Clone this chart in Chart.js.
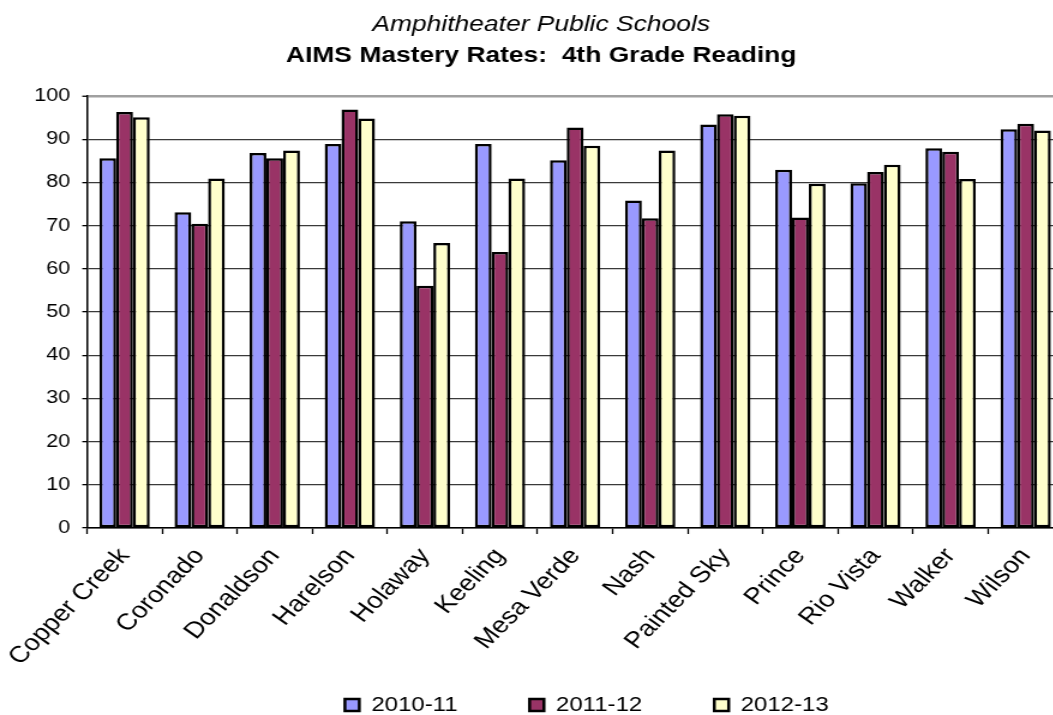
<!DOCTYPE html>
<html>
<head>
<meta charset="utf-8">
<title>AIMS Mastery Rates: 4th Grade Reading</title>
<script src="https://cdn.jsdelivr.net/npm/chart.js@4"></script>
<style>
  html, body { margin: 0; padding: 0; background: #fff; overflow: hidden; }
  #wrap { position: absolute; left: 0; top: 0; width: 978px; height: 728px; transform: scaleX(1.2); transform-origin: 0 0; }
</style>
</head>
<body>
<div id="wrap"><canvas id="readingChart"></canvas></div>
<script>
const titleLines = ['Amphitheater Public Schools', 'AIMS Mastery Rates:  4th Grade Reading'];

const schools = ['Copper Creek', 'Coronado', 'Donaldson', 'Harelson', 'Holaway', 'Keeling',
    'Mesa Verde', 'Nash', 'Painted Sky', 'Prince', 'Rio Vista', 'Walker', 'Wilson'];

const years = ['2010-11', '2011-12', '2012-13'];

const rates2010 = [85.6, 73.1, 86.8, 88.9, 71.0, 88.9, 85.1, 75.8, 93.4, 82.9, 79.8, 87.9, 92.3];
const rates2011 = [96.3, 70.4, 85.6, 96.9, 56.1, 63.9, 92.7, 71.7, 95.8, 71.9, 82.4, 87.1, 93.6];
const rates2012 = [95.1, 80.9, 87.4, 94.8, 66.0, 80.9, 88.5, 87.4, 95.4, 79.7, 84.1, 80.8, 92.0];

const yTicks = [0, 10, 20, 30, 40, 50, 60, 70, 80, 90, 100];

const barColors = ['#9999FF', '#993366', '#FFFFCC'];
const fontFamily = '"Liberation Sans", Arial, sans-serif';

// two title lines, italic over bold
const titlePlugin = {
    id: 'twoLineTitle',
    afterDraw(chart) {
        const ctx = chart.ctx;
        ctx.save();
        ctx.fillStyle = '#000';
        ctx.textAlign = 'center';
        ctx.textBaseline = 'alphabetic';
        ctx.font = `italic 22px ${fontFamily}`;
        ctx.fillText(titleLines[0], 451, 31);
        ctx.font = `bold 22px ${fontFamily}`;
        ctx.fillText(titleLines[1], 451, 62);
        ctx.restore();
    }
};

function makeDataset(label, data, color) {
    return {
        label,
        data,
        backgroundColor: color,
        borderColor: '#000',
        borderWidth: 2.5,
        borderSkipped: false,
        categoryPercentage: 0.67,
        barPercentage: 1.0
    };
}

const ctx = document.getElementById('readingChart').getContext('2d');

new Chart(ctx, {
    type: 'bar',
    data: {
        labels: schools,
        datasets: [
            makeDataset(years[0], rates2010, barColors[0]),
            makeDataset(years[1], rates2011, barColors[1]),
            makeDataset(years[2], rates2012, barColors[2])
        ]
    },
    options: {
        responsive: true,
        maintainAspectRatio: false,
        animation: false,
        devicePixelRatio: 1,
        layout: {
            padding: { top: 96, bottom: 3, left: 0, right: 0 }
        },
        plugins: {
            title: { display: false },
            tooltip: { enabled: false },
            legend: {
                position: 'bottom',
                labels: {
                    color: '#000',
                    font: { family: fontFamily, size: 20 },
                    boxWidth: 12,
                    boxHeight: 12,
                    padding: 60
                }
            }
        },
        scales: {
            x: {
                type: 'category',
                offset: true,
                afterFit(scale) {
                    scale.height = 107;
                    // school names run down past the axis box, so don't clip them
                    scale._computeLabelArea = () => undefined;
                },
                grid: {
                    display: true,
                    offset: true,
                    drawOnChartArea: false,
                    drawTicks: true,
                    tickLength: 6,
                    tickColor: '#000',
                    tickWidth: 1.3
                },
                border: { display: true, color: '#000', width: 1.5 },
                ticks: {
                    color: '#000',
                    font: { family: fontFamily, size: 23 },
                    autoSkip: false,
                    minRotation: 50,
                    maxRotation: 50,
                    padding: 9
                }
            },
            y: {
                min: 0,
                max: 100,
                afterFit(scale) { scale.width = 72; },
                afterBuildTicks(scale) {
                    scale.ticks = yTicks.map(v => ({ value: v }));
                },
                grid: {
                    color: (c) => c.tick && c.tick.value === 100 ? '#a0a0a0' : '#3a3a3a',
                    lineWidth: (c) => c.tick && c.tick.value === 100 ? 2.5 : 1.3,
                    tickLength: 4,
                    tickColor: '#000',
                    tickWidth: 1.3
                },
                border: { display: true, color: '#000', width: 1.5 },
                ticks: {
                    color: '#000',
                    font: { family: fontFamily, size: 18 },
                    padding: 10
                }
            },
            // blank axis on the right that keeps the plot wide enough
            spacer: {
                type: 'linear',
                position: 'right',
                display: true,
                afterFit(scale) { scale.width = 92; },
                grid: { display: false, drawTicks: false },
                border: { display: false },
                ticks: { display: false }
            }
        }
    },
    plugins: [titlePlugin]
});
</script>
</body>
</html>
